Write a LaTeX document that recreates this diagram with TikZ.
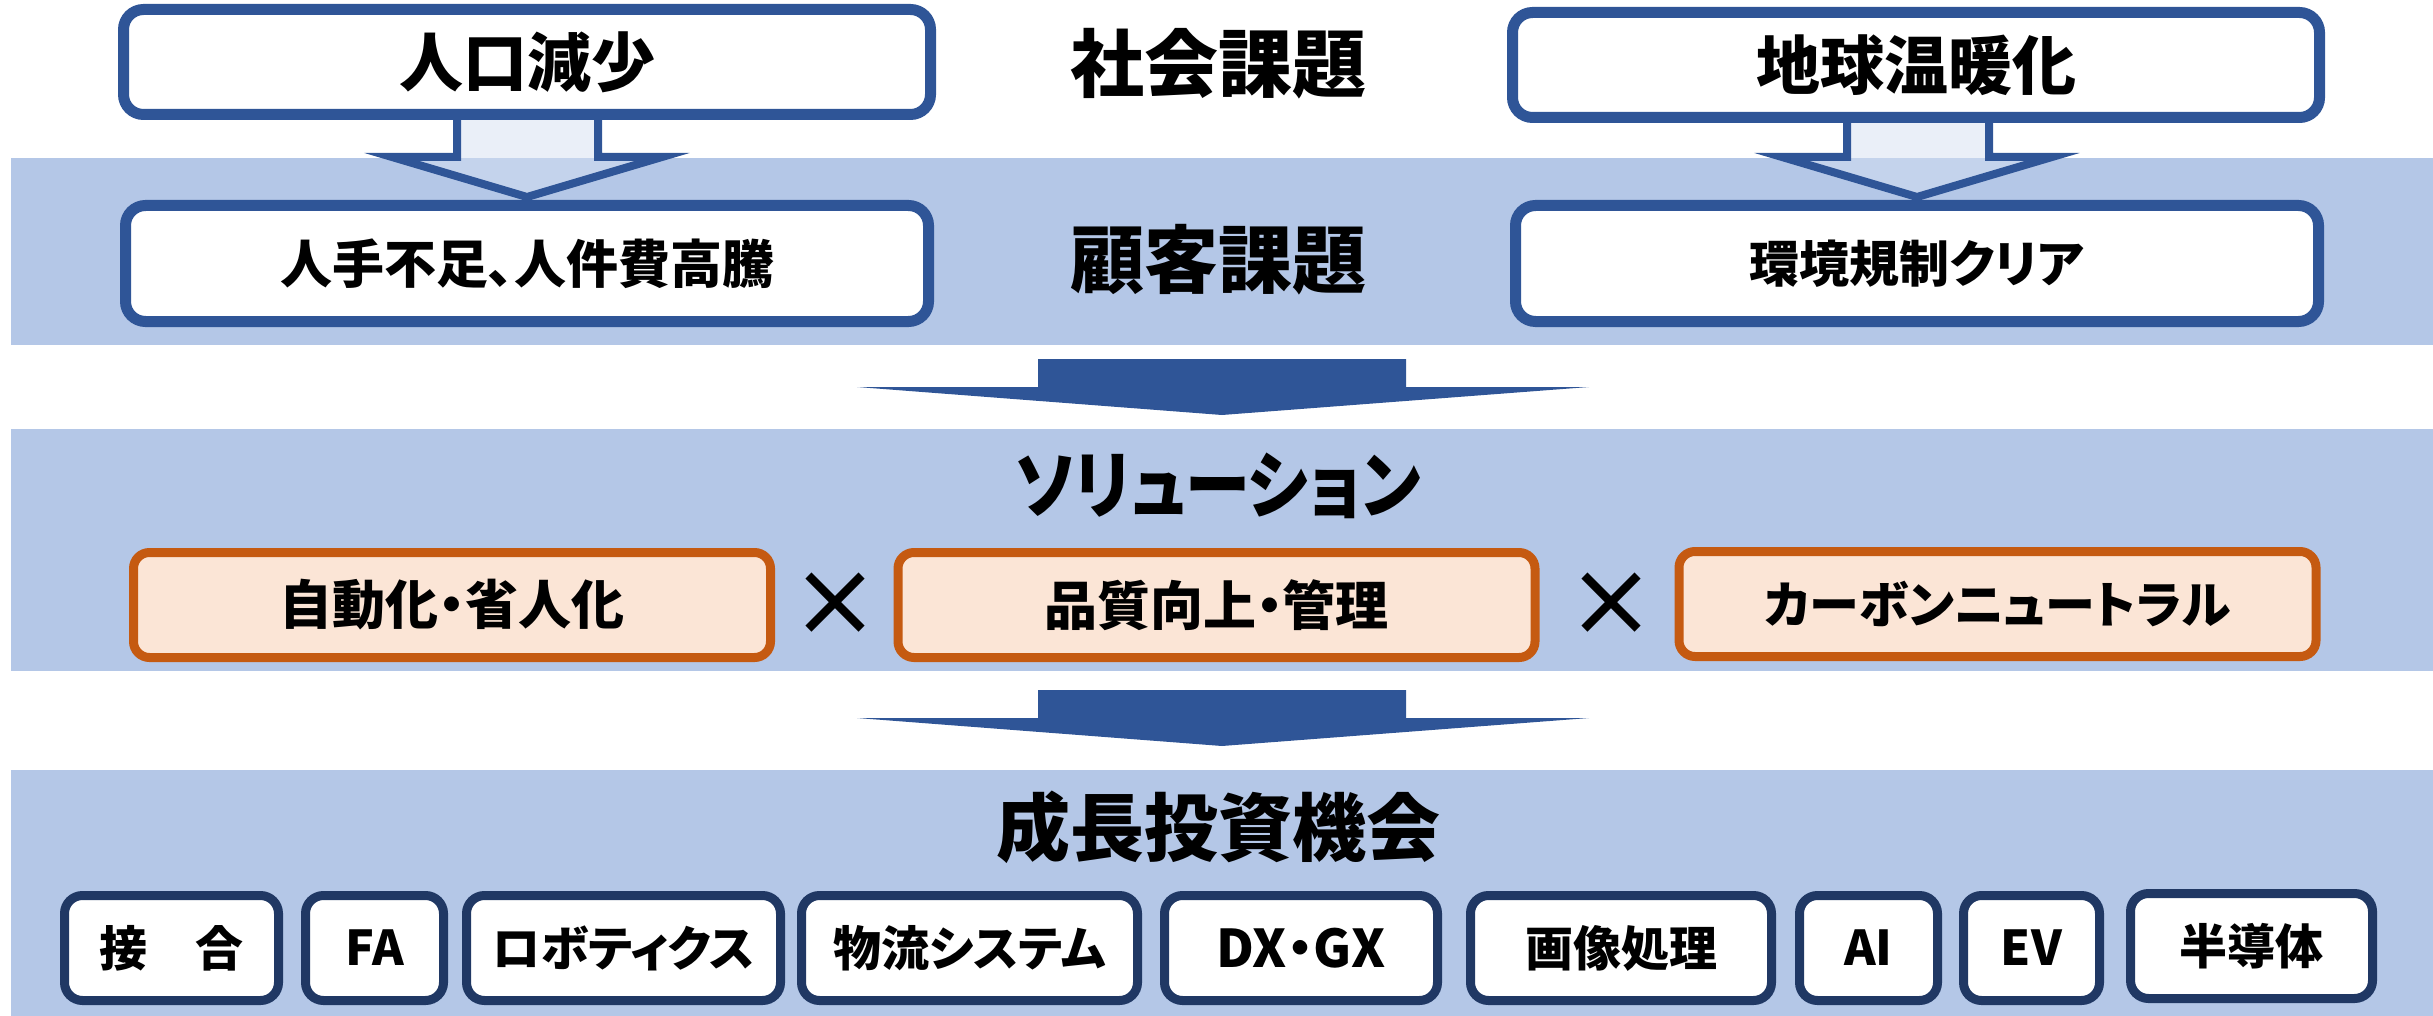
\documentclass[tikz,border=0pt]{standalone}
\usepackage{fontspec}
\newfontfamily\jp{Noto Sans CJK JP}[RawFeature=+palt]
\newfontfamily\xfont{DejaVu Sans}
\definecolor{bandc}{RGB}{180,199,231}
\definecolor{midblue}{RGB}{47,85,151}
\definecolor{navy}{RGB}{32,56,100}
\definecolor{harrowfill}{RGB}{213,223,241}
\definecolor{orangec}{RGB}{197,90,17}
\definecolor{peach}{RGB}{251,229,214}
\tikzset{
  topbox/.style={draw=midblue, line width=11pt, fill=white, rounded corners=20pt, inner sep=0pt, align=center},
  solbox/.style={draw=orangec, line width=9pt, fill=peach, rounded corners=16pt, inner sep=0pt, minimum width=637pt, minimum height=105pt},
  botbox/.style={draw=navy, line width=9pt, fill=white, rounded corners=18pt, inner sep=0pt, minimum height=105pt},
  heading/.style={inner sep=0pt, font=\jp\bfseries\fontsize{74}{80}\selectfont},
  hollowarrow/.style={draw=midblue, line width=8pt, fill=harrowfill, fill opacity=0.5, draw opacity=1, line join=miter},
  solidarrow/.style={fill=midblue},
  timesmark/.style={inner sep=0pt, font=\xfont\fontsize{105}{110}\selectfont}
}
\begin{document}
\begin{tikzpicture}[x=1pt,y=-1pt]
\useasboundingbox (0,0) rectangle (2433,1016);
% bands
\fill[bandc] (11,158) rectangle (2433,345);
\fill[bandc] (11,429) rectangle (2433,671);
\fill[bandc] (11,770) rectangle (2433,1016);
% hollow arrows
\draw[hollowarrow] (457,100) -- (457,157) -- (392,157) -- (527,197) -- (662,157) -- (598,157) -- (598,100) -- cycle;
\draw[hollowarrow] (1847,100) -- (1847,157) -- (1782,157) -- (1917,197) -- (2052,157) -- (1989,157) -- (1989,100) -- cycle;
% top row
\node[topbox, minimum width=807pt, minimum height=105pt, font=\jp\bfseries\fontsize{64}{70}\selectfont] (jinko) at (527,62) {人口減少};
\node[topbox, minimum width=807pt, minimum height=105pt, font=\jp\bfseries\fontsize{64}{70}\selectfont] (ondan) at (1916,65) {地球温暖化};
\node[heading] (shakai) at (1218,64) {社会課題};
% second row
\node[topbox, minimum width=803pt, minimum height=116pt, font=\jp\bfseries\fontsize{52}{58}\selectfont] (hitode) at (527,263.5) {人手不足、人件費高騰};
\node[topbox, minimum width=803pt, minimum height=116pt, font=\jp\bfseries\fontsize{50}{56}\selectfont] (kankyo) at (1917,263.5) {環境規制クリア};
\node[heading] (kokyaku) at (1218,260) {顧客課題};
% solid arrow 1
\fill[solidarrow] (1038,359) -- (1406,359) -- (1406,387) -- (1589,387) -- (1222,415) -- (857,387) -- (1038,387) -- cycle;
% solution band
\node[heading] (solution) at (1218,486) {\scalebox{0.88}[1]{ソリューション}};
\node[solbox, font=\jp\bfseries\fontsize{53}{58}\selectfont] (jidoka) at (452,605) {自動化・省人化};
\node[solbox, font=\jp\bfseries\fontsize{53}{58}\selectfont] (hinshitsu) at (1216.5,605) {品質向上・管理};
\node[solbox, font=\jp\bfseries\fontsize{50}{56}\selectfont] (carbon) at (1997.5,604) {カーボンニュートラル};
\node[timesmark] (x1) at (835,604) {×};
\node[timesmark] (x2) at (1611,604) {×};
% solid arrow 2
\fill[solidarrow] (1038,690) -- (1406,690) -- (1406,718) -- (1589,718) -- (1222,746) -- (857,718) -- (1038,718) -- cycle;
% growth band
\node[heading] (seicho) at (1218,827) {成長投資機会};
\begin{scope}[every node/.append style={botbox, font=\jp\bfseries\fontsize{48}{54}\selectfont}]
\node[minimum width=214pt] (b1) at (171.5,948) {接　合};
\node[minimum width=138pt] (b2) at (374.5,948) {FA};
\node[minimum width=314pt] (b3) at (623.5,948) {ロボティクス};
\node[minimum width=336pt] (b4) at (969.5,948) {物流システム};
\node[minimum width=273pt, font=\jp\bfseries\fontsize{52}{58}\selectfont] (b5) at (1301,948) {DX・GX};
\node[minimum width=301pt] (b6) at (1621,948) {画像処理};
\node[minimum width=138pt] (b7) at (1868.5,948) {AI};
\node[minimum width=136pt] (b8) at (2031.5,948) {EV};
\node[minimum width=242pt] (b9) at (2251.5,946) {半導体};
\end{scope}
\end{tikzpicture}
\end{document}
